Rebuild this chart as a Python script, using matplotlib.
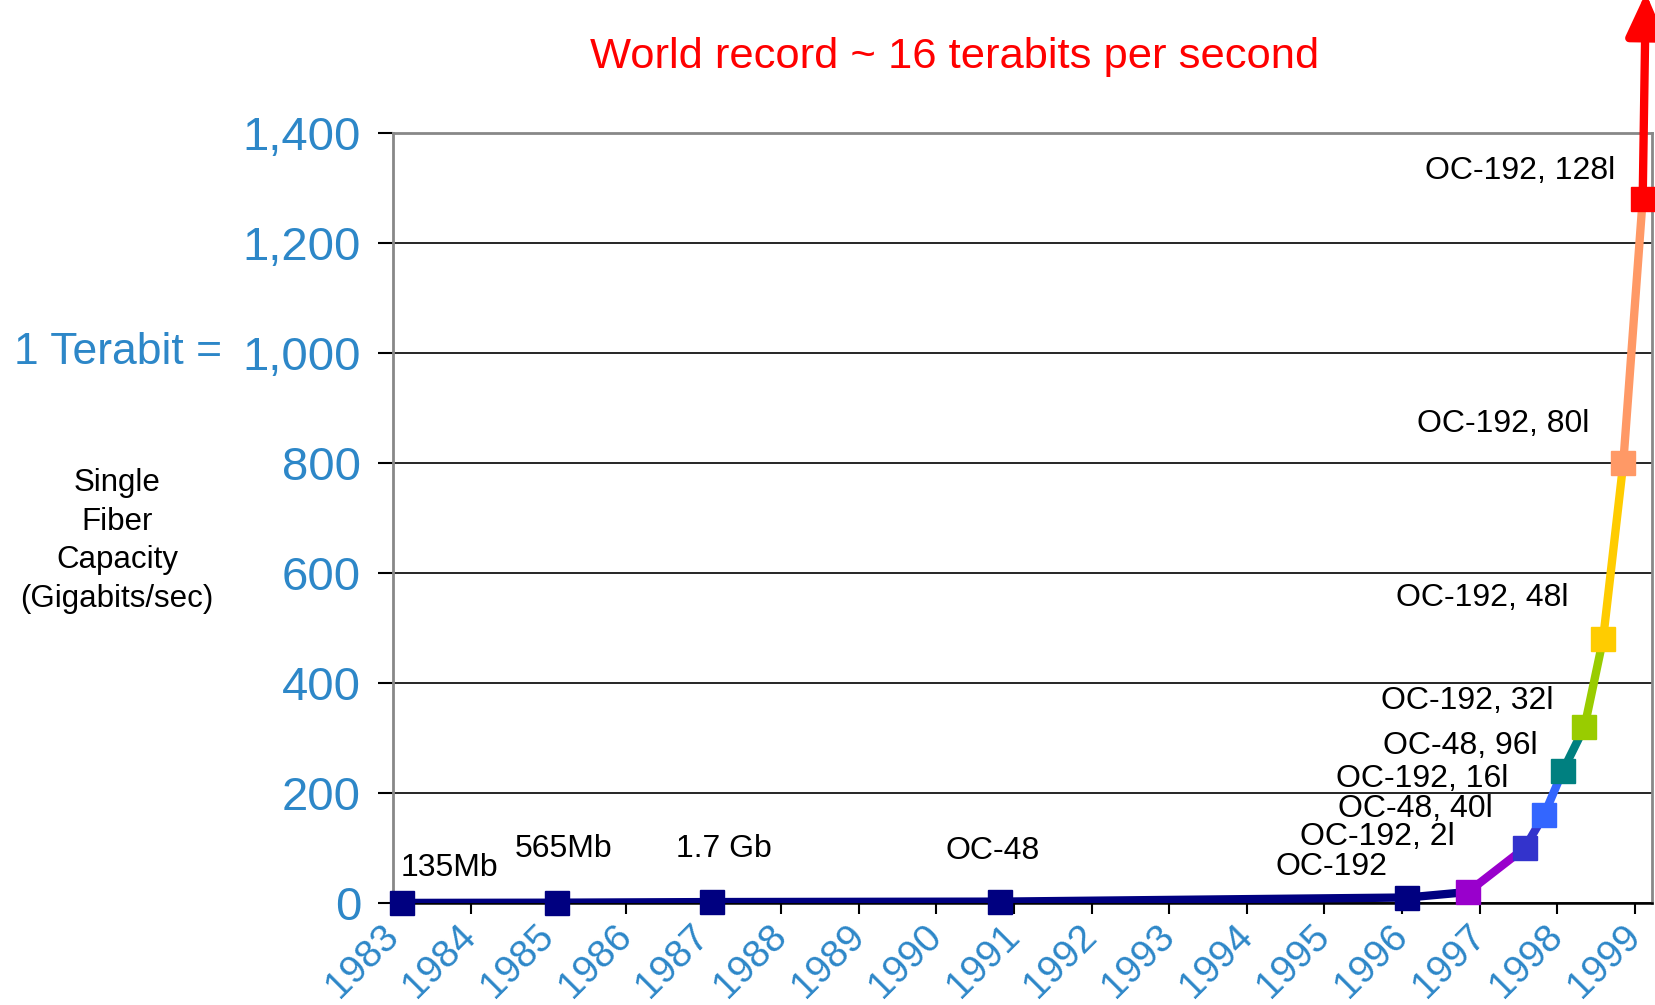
import matplotlib
matplotlib.use("Agg")
import matplotlib.pyplot as plt
from matplotlib.ticker import FuncFormatter, MultipleLocator

plt.rcParams['font.family'] = ['Liberation Sans', 'DejaVu Sans']

# ---- data ----
years = [1983.11, 1985.11, 1987.11, 1990.82, 1996.07, 1996.85, 1997.58,
         1997.83, 1998.07, 1998.35, 1998.59, 1998.85, 1999.10]
capacity = [0.135, 0.565, 1.7, 2.5, 10, 20, 100, 160, 240, 320, 480, 800, 1280]
point_labels = ["135Mb", "565Mb", "1.7 Gb", "OC-48", "OC-192", "OC-192, 2l",
                "OC-48, 40l", "OC-192, 16l", "OC-48, 96l", "OC-192, 32l",
                "OC-192, 48l", "OC-192, 80l", "OC-192, 128l"]
point_colors = ["#000080", "#000080", "#000080", "#000080", "#000080",
                "#9900CC", "#3333CC", "#3366FF", "#008080", "#99CC00",
                "#FFCC00", "#FF9966", "#FF0000"]
tick_years = list(range(1983, 2000))
record_arrow_end = (1999.14, 1655)
title_text = "World record ~ 16 terabits per second"

# label anchor positions (left edge, vertical centre) in data units
label_x = [1983.10, 1984.57, 1986.64, 1990.12, 1994.37, 1994.69, 1995.18,
           1995.15, 1995.75, 1995.73, 1995.92, 1996.19, 1996.30]
label_y = [64, 99, 99, 95, 66, 120, 171, 225, 286, 368, 554, 870, 1331]

BLUE = "#2D87C8"

fig = plt.figure(figsize=(16.55, 10.05), dpi=100)
ax = fig.add_axes([393/1655, 1 - 903/1005, (1652-393)/1655, (903-133)/1005])

ax.set_xlim(1983, 1999.22)
ax.set_ylim(0, 1400)

# grid
ax.yaxis.set_major_locator(MultipleLocator(200))
ax.grid(axis='y', color='black', lw=1.2, zorder=0)
ax.set_axisbelow(True)

# segments coloured by starting point
for i in range(len(years) - 1):
    ax.plot(years[i:i+2], capacity[i:i+2], color=point_colors[i], lw=6,
            solid_capstyle='butt', zorder=3)

# arrow from last point
ax.annotate('', xy=record_arrow_end, xytext=(years[-1], capacity[-1]),
            xycoords='data', annotation_clip=False,
            arrowprops=dict(arrowstyle='-|>,head_length=0.85,head_width=0.38',
                            color='#FF0000', lw=6, mutation_scale=30,
                            shrinkA=0, shrinkB=0), zorder=4)

for x, y, c in zip(years, capacity, point_colors):
    ax.plot([x], [y], marker='s', ms=17.5, color=c, mec=c, zorder=5,
            clip_on=False)

for x, y, t in zip(label_x, label_y, point_labels):
    ax.text(x, y, t, fontsize=23, ha='left', va='center', color='black',
            zorder=6)

# spines
for s in ['left', 'top', 'right']:
    ax.spines[s].set_color('#888888')
    ax.spines[s].set_linewidth(2)
ax.spines['bottom'].set_color('black')
ax.spines['bottom'].set_linewidth(1.8)

# ticks
ax.set_xticks(tick_years)
ax.set_xticklabels([str(y) for y in tick_years], rotation=45, ha='right',
                   va='center', rotation_mode='anchor', color=BLUE,
                   fontsize=28)
ax.tick_params(axis='x', direction='out', length=8, width=1.5, color='black',
               pad=12)
ax.yaxis.set_major_formatter(FuncFormatter(lambda v, p: f"{int(v):,}"))
ax.tick_params(axis='y', direction='out', length=11, width=1.5, color='black',
               labelsize=34, labelcolor=BLUE, pad=12)

fig.text(222/1655, 1 - 353/1005, "1 Terabit =", fontsize=32, color=BLUE,
         ha='right', va='center')
fig.text(117/1655, 1 - 541/1005, "Single\nFiber\nCapacity\n(Gigabits/sec)",
         fontsize=22.5, color='black', ha='center', va='center',
         multialignment='center', linespacing=1.38)
fig.text(955/1655, 1 - 57/1005, title_text, fontsize=31.3, color='#FF0000',
         ha='center', va='center')

fig.savefig("out.png", dpi=100)
